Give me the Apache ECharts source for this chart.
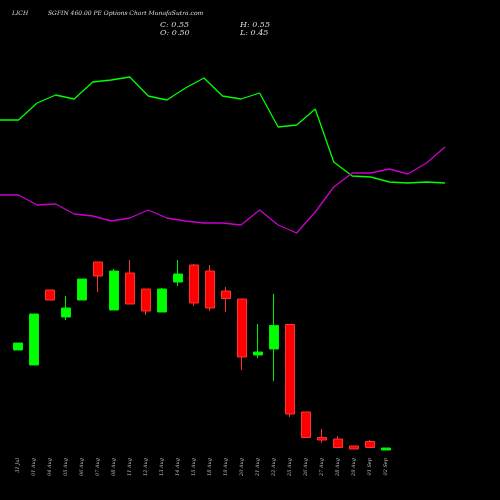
<!DOCTYPE html>
<html><head><meta charset="utf-8">
<script src="https://cdn.jsdelivr.net/npm/echarts@6/dist/echarts.min.js"></script>
<style>html,body{margin:0;background:#000}#c{width:500px;height:500px}</style></head>
<body><div id="c"></div>
<script>
const categories=['31 Jul','01 Aug','04 Aug','05 Aug','06 Aug','07 Aug','08 Aug','11 Aug','12 Aug','13 Aug','14 Aug','15 Aug','18 Aug','19 Aug','20 Aug','21 Aug','22 Aug','25 Aug','26 Aug','27 Aug','28 Aug','29 Aug','01 Sep','02 Sep'];
// [open, close, low, high]
const ohlc=[
[1.50,1.57,1.50,1.57],[1.35,1.86,1.35,1.86],[2.10,2.00,2.00,2.10],[1.83,1.92,1.80,2.04],
[2.00,2.21,2.00,2.21],[2.38,2.24,2.08,2.38],[1.90,2.29,1.90,2.31],[2.27,1.96,1.96,2.40],
[2.11,1.89,1.85,2.11],[1.88,2.11,1.88,2.12],[2.18,2.26,2.14,2.40],[2.35,1.97,1.94,2.36],
[2.29,1.92,1.89,2.35],[2.09,2.015,1.88,2.13],[2.01,1.43,1.30,2.01],[1.45,1.48,1.42,1.76],
[1.51,1.745,1.19,2.06],[1.755,0.86,0.83,1.755],[0.88,0.625,0.625,0.88],[0.625,0.60,0.57,0.71],
[0.61,0.525,0.525,0.64],[0.54,0.51,0.51,0.54],[0.585,0.525,0.525,0.60],[0.50,0.52,0.50,0.52]];
const greenLine=[3.80,3.80,3.97,4.05,4.01,4.18,4.20,4.23,4.04,4.00,4.12,4.22,4.04,4.01,4.07,3.73,3.75,3.91,3.38,3.24,3.23,3.18,3.17,3.18,3.17];
const magentaLine=[3.05,3.05,2.95,2.96,2.86,2.84,2.79,2.82,2.90,2.82,2.79,2.77,2.77,2.75,2.90,2.75,2.67,2.88,3.13,3.27,3.27,3.31,3.26,3.37,3.53];
const titleLeft='LICH', titleMain='SGFIN 460.00 PE Options Chart MunafaSutra.com';
const info={C:'0.55',H:'0.55',O:'0.50',L:'0.45'};
const ch=echarts.init(document.getElementById('c'));
const ts={fontFamily:'DejaVu Serif',fontStyle:'italic',color:'#ddd'};
ch.setOption({
 backgroundColor:'#000',animation:false,
 graphic:[
  {type:'text',left:12,top:10,style:Object.assign({text:titleLeft,fontSize:6,fill:'#ddd'},{fontFamily:'DejaVu Serif',fontStyle:'italic'})},
  {type:'text',left:48,top:10,style:{text:titleMain,fontSize:6,fill:'#ddd',fontFamily:'DejaVu Serif',fontStyle:'italic'}},
  {type:'text',left:160,top:21,style:{text:'C: '+info.C,fontSize:8,fill:'#ddd',fontFamily:'DejaVu Serif',fontStyle:'italic'}},
  {type:'text',left:160,top:29,style:{text:'O: '+info.O,fontSize:8,fill:'#ddd',fontFamily:'DejaVu Serif',fontStyle:'italic'}},
  {type:'text',left:240,top:21,style:{text:'H: '+info.H,fontSize:8,fill:'#ddd',fontFamily:'DejaVu Serif',fontStyle:'italic'}},
  {type:'text',left:240,top:29,style:{text:'L: '+info.L,fontSize:8,fill:'#ddd',fontFamily:'DejaVu Serif',fontStyle:'italic'}}
 ],
 grid:[{left:10,width:384,top:0,height:455},{left:0,width:445,top:0,height:500}],
 xAxis:[
  {type:'category',data:categories,gridIndex:0,axisLine:{show:false},axisTick:{show:false},
   axisLabel:{rotate:90,fontSize:5,color:'#bbb',fontFamily:'DejaVu Serif',fontStyle:'italic',margin:3,interval:0}},
  {type:'category',gridIndex:1,boundaryGap:false,data:greenLine.map((_,i)=>i),show:false}
 ],
 yAxis:[
  {type:'value',gridIndex:0,min:0.45,max:5,show:false,splitLine:{show:false}},
  {type:'value',gridIndex:1,min:0,max:5,show:false,splitLine:{show:false}}
 ],
 series:[
  {type:'candlestick',data:ohlc,barWidth:9,itemStyle:{color:'#00ff00',color0:'#ff0000',borderColor:'#00ee00',borderColor0:'#ff3333',borderWidth:1}},
  {type:'line',xAxisIndex:1,yAxisIndex:1,data:greenLine,symbol:'none',lineStyle:{color:'#00ff00',width:1.3}},
  {type:'line',xAxisIndex:1,yAxisIndex:1,data:magentaLine,symbol:'none',lineStyle:{color:'#cc00cc',width:1.3}}
 ]
});
</script></body></html>
